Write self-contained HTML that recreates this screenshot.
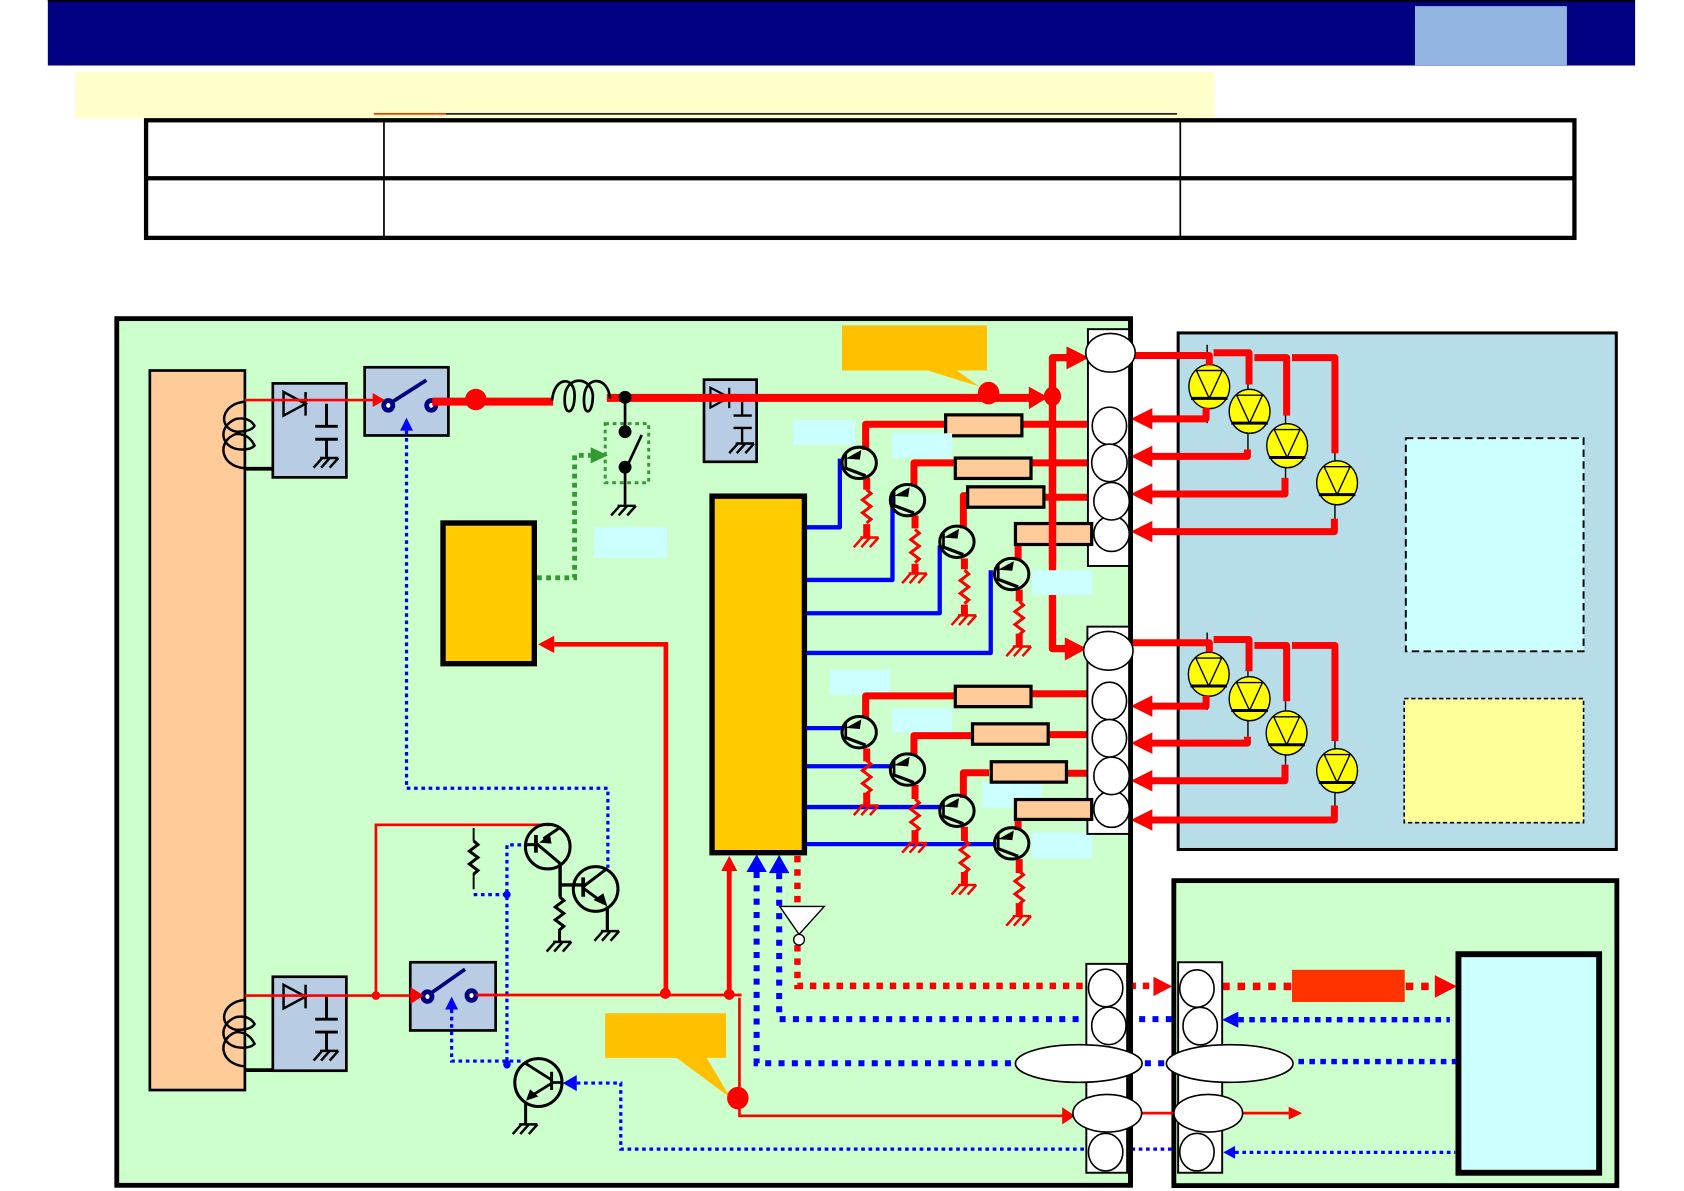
<!DOCTYPE html>
<html><head><meta charset="utf-8"><title>Diagram</title>
<style>html,body{margin:0;padding:0;background:#fff}svg{display:block}</style></head>
<body>
<svg xmlns="http://www.w3.org/2000/svg" width="1684" height="1191" viewBox="0 0 1568 1109">
<defs>
<g id="gnd" fill="none" stroke-width="2.300"><path d="M-6 0H11M-4 0L-12 9M3 0L-5 9M11 0L3 9"/></g>
<g id="res" fill="none" stroke-width="2.800"><path d="M0 0l4 3.500-8 6 8 6-8 6 8 6-4 3.500"/></g>
<g id="coil" fill="none" stroke="#000" stroke-width="2.300"><path d="M0 0C-22 2-26 24-8 28Q6 28 9 22.500Q4 14-8 16C-24 22-24 40-8 44Q4 46 9 41Q4 30-8 30C-26 36-24 60 0 62"/></g>
<g id="q" fill="none" stroke="#000"><ellipse rx="16" ry="14.600" stroke-width="2.800"/><path d="M-12.500-8V6" stroke-width="2.500"/><path d="M-12.500 5L6 12" stroke-width="3"/><polygon points="-12.500,-4 2,-12 0.600,-3" fill="#000" stroke="none"/></g>
<g id="led"><ellipse rx="19" ry="20.500" fill="#FFFF00" stroke="#000" stroke-width="1.300"/><path d="M-12-15H12L0 11Z" fill="none" stroke="#000" stroke-width="1.300"/><path d="M-17 11H17" stroke="#000" stroke-width="2.800"/></g>
<g id="capbox" fill="none" stroke="#000"><path d="M264 9L284.500 20 264 31Z M284.500 9V31" stroke-width="2.300"/><path d="M304 20V41M293.500 41H314.500M293.500 53H314.500M304 53V71" stroke-width="2.700"/></g>
</defs>

<!-- header -->
<rect x="44.500" y="0" width="1478" height="61" fill="#000080"/>
<rect x="44.500" y="0" width="1478" height="1.500" fill="#000"/>
<rect x="1317.500" y="5.700" width="141.500" height="55" fill="#92B4E0"/>
<rect x="70" y="67" width="1061" height="43.500" fill="#FFFFCC"/>
<rect x="348" y="105.200" width="67" height="1.600" fill="#FF3300"/>
<rect x="415" y="105.200" width="681" height="1.600" fill="#222"/>

<!-- table -->
<rect x="136" y="112" width="1330" height="109.500" fill="#fff" stroke="#000" stroke-width="4"/>
<path d="M136 166H1466" stroke="#000" stroke-width="4"/>
<path d="M357.500 112V221M1099 112V221" stroke="#000" stroke-width="1.600"/>

<!-- panels -->
<rect x="108.700" y="296.700" width="944" height="807" fill="#CCFFCC" stroke="#000" stroke-width="4.500"/>
<rect x="1097" y="310" width="408" height="481" fill="#B7DDE8" stroke="#000" stroke-width="2.800"/>
<rect x="1309" y="408" width="165.500" height="198.500" fill="#CCFFFF" stroke="#000" stroke-width="1.800" stroke-dasharray="7 4"/>
<rect x="1307.500" y="650.500" width="167" height="115.500" fill="#FFFF99" stroke="#000" stroke-width="1.500" stroke-dasharray="4 2.500"/>
<rect x="1093" y="820" width="412.500" height="284" fill="#CCFFCC" stroke="#000" stroke-width="4.500"/>
<rect x="1358" y="888.500" width="131" height="203.500" fill="#CCFFFF" stroke="#000" stroke-width="5.500"/>

<!-- orange bar, coils -->
<rect x="139.500" y="345" width="88.500" height="670" fill="#FFCC99" stroke="#000" stroke-width="2.500"/>
<use href="#coil" x="228" y="374"/>
<use href="#coil" x="228" y="931"/>
<path d="M228 436.500H254M228 996.500H254" stroke="#000" stroke-width="3.500"/>

<!-- blue boxes -->
<g fill="#B8CCE4" stroke="#000" stroke-width="2.500">
<rect x="254" y="357" width="68.500" height="87.500"/>
<rect x="254" y="909.500" width="68.500" height="87.500"/>
<rect x="339.500" y="342" width="78" height="63.500"/>
<rect x="382" y="896" width="79.500" height="63.500"/>
<rect x="655.500" y="353.500" width="49" height="76.500"/>
</g>
<use href="#capbox" x="0" y="356"/>
<use href="#capbox" x="0" y="908"/>
<use href="#gnd" x="304" y="426.500" stroke="#000"/>
<use href="#gnd" x="304" y="978.500" stroke="#000"/>
<path d="M661.500 361L679 370 661.500 379.500ZM679 361V380" fill="none" stroke="#000" stroke-width="2"/>
<path d="M691 370V387M683 387H700M683 398.500H700M691 398.500V413" fill="none" stroke="#000" stroke-width="2.200"/>
<use href="#gnd" x="691" y="413" stroke="#000"/>

<!-- cyan labels (under) -->
<g fill="#CCFFFF">
<rect x="739" y="391" width="57" height="23"/>
<rect x="553" y="491" width="68" height="28.500"/>
<rect x="772.500" y="623.500" width="56.500" height="23.500"/>
<rect x="830.500" y="659.500" width="56" height="22.500"/>
<rect x="915" y="728" width="55" height="24"/>
<rect x="961" y="775.500" width="56" height="24"/>
</g>

<!-- switches -->
<g fill="#fff" stroke="#000080" stroke-width="4.500">
<ellipse cx="361.500" cy="377.500" rx="4.200" ry="4.500"/><ellipse cx="401.500" cy="377.500" rx="4.200" ry="4.500"/>
<ellipse cx="398" cy="928" rx="4.200" ry="4.500"/><ellipse cx="439" cy="927" rx="4.200" ry="4.500"/>
</g>
<path d="M364 375L397 354M401 925L433 902.500" stroke="#000080" stroke-width="3.500" fill="none"/>

<!-- thin dotted blue -->
<g fill="none" stroke="#0000FF" stroke-width="3" stroke-dasharray="3.400 3.400">
<path d="M378.500 401V734H566V808"/>
<path d="M492 786.700H472V991"/>
<path d="M441 833H471"/>
<path d="M420.500 940V988H488"/>
<path d="M537 1008.500H578V1070H1092"/>
<path d="M1150 1073H1355"/>
</g>
<polygon points="378.500,389 372.500,401 384.500,401" fill="#0000FF"/>
<polygon points="420.500,928 414.500,940 426.500,940" fill="#0000FF"/>
<polygon points="524,1008.500 537,1001 537,1016" fill="#0000FF"/>
<polygon points="1139,1073 1150,1067 1150,1079" fill="#0000FF"/>
<circle cx="472" cy="833" r="3.500" fill="#0000FF"/><ellipse cx="472" cy="991" rx="3.500" ry="4" fill="#0000FF"/>

<!-- green dotted -->
<path d="M500 538H535V424H550" fill="none" stroke="#339933" stroke-width="4.500" stroke-dasharray="4.500 4"/>
<polygon points="550,416.500 566,424 550,431.500" fill="#339933"/>
<rect x="563.500" y="394.500" width="40.500" height="55" fill="none" stroke="#339933" stroke-width="2.800" stroke-dasharray="3.500 3.500"/>

<!-- yellow blocks -->
<rect x="412.500" y="487" width="85" height="131" fill="#FFCC00" stroke="#000" stroke-width="5"/>
<rect x="663" y="462" width="86" height="332" fill="#FFCC00" stroke="#000" stroke-width="5"/>

<!-- chip blue outputs -->
<g fill="none" stroke="#0000FF" stroke-width="4" stroke-linejoin="round">
<path d="M751 491H782V427"/>
<path d="M751 540H831V461"/>
<path d="M751 571H875V508"/>
<path d="M751 608H922.500V531"/>
<path d="M751 678H786"/>
<path d="M751 713.500H832"/>
<path d="M751 751.500H877"/>
<path d="M751 786H928"/>
</g>

<!-- resistor lines -->
<g fill="none" stroke="#FF0000" stroke-width="6.500" stroke-linejoin="round">
<path d="M806 419V395H880"/><path d="M953 395H1012"/>
<path d="M851 452V431H888"/><path d="M961 431H1014"/>
<path d="M897 492V461.500H900"/><path d="M973 463H1013"/>
<path d="M948 522V508"/>
<path d="M806 669V648H888"/><path d="M961 646H1013"/>
<path d="M851 704V685H904"/><path d="M977 684H1012"/>
<path d="M897 743V719.500H921"/><path d="M994 720H1013"/>
<path d="M948 773V764"/>
</g>
<g fill="#FFCC99" stroke="#000" stroke-width="3">
<rect x="880.500" y="386.300" width="71" height="19.500"/>
<rect x="889.500" y="426.500" width="70.500" height="19"/>
<rect x="901" y="453.300" width="71" height="19"/>
<rect x="889.500" y="639" width="70.500" height="19"/>
<rect x="905.500" y="674" width="70.500" height="19"/>
<rect x="923" y="709.300" width="70" height="19"/>
</g>

<!-- grounds + resistors red -->
<g stroke="#FF0000">
<g fill="none" stroke-width="6.500"><path d="M807 445V456M807 488V500M852 480V492M852 525V534M898 520V530M898 563V573M949 549V560M949 590V602M807 697V709M807 738V750M852 731V744M852 773V785M898 770V783M898 812V824M949 800V813M949 841V853"/></g>
<use href="#res" x="807" y="456"/><use href="#gnd" x="807" y="500.500"/>
<use href="#res" x="852" y="493"/><use href="#gnd" x="852" y="534"/>
<use href="#res" x="898" y="531"/><use href="#gnd" x="898" y="573"/>
<use href="#res" x="949" y="560"/><use href="#gnd" x="949" y="602"/>
<use href="#res" x="807" y="708"/><use href="#gnd" x="807" y="750"/>
<use href="#res" x="852" y="744"/><use href="#gnd" x="852" y="785"/>
<use href="#res" x="898" y="782"/><use href="#gnd" x="898" y="824"/>
<use href="#res" x="949" y="811"/><use href="#gnd" x="949" y="853"/>
</g>

<!-- small transistors -->
<use href="#q" x="800" y="431"/><use href="#q" x="845" y="465.700"/><use href="#q" x="891" y="504.500"/><use href="#q" x="942" y="534.500"/>
<use href="#q" x="800" y="681.800"/><use href="#q" x="845" y="716.600"/><use href="#q" x="891" y="755"/><use href="#q" x="942" y="785.300"/>

<!-- main thick red rail -->
<g fill="none" stroke="#FF0000" stroke-linejoin="round">
<path d="M402.500 374H515" stroke-width="7.500"/>
<path d="M565 370.500H960" stroke-width="7.500"/>
<path d="M998 333H980V604H998" stroke-width="6.800"/>
<path d="M228 372.500H348" stroke-width="2.500"/>
</g>
<polygon points="347,366 358.500,372.500 347,379" fill="#FF0000"/>
<polygon points="958,360 976,370 958,381" fill="#FF0000"/>
<polygon points="993,322.500 1014,333 993,344" fill="#FF0000"/>
<polygon points="991.500,593.500 1012,604 991.500,615" fill="#FF0000"/>
<ellipse cx="443" cy="372" rx="10" ry="10" fill="#FF0000"/>
<ellipse cx="920.500" cy="366" rx="10" ry="10.500" fill="#FF0000"/>
<ellipse cx="980" cy="369" rx="8" ry="9" fill="#FF0000"/>

<!-- inductor -->
<path d="M514 373C516 350 535 350 535 368C535 388 524 388 526 368C528 350 550 350 552 368C552 388 542 388 544 368C546 350 566 350 568 371" fill="none" stroke="#000" stroke-width="2.500"/>

<!-- small relay -->
<path d="M582 370V402M582 435V470M584 434L597.500 405" stroke="#000" stroke-width="2.500" fill="none"/>
<circle cx="582" cy="370" r="6" fill="#000"/><circle cx="582" cy="402" r="6" fill="#000"/><circle cx="582" cy="435" r="6" fill="#000"/>
<use href="#gnd" x="581" y="471" stroke="#000"/>

<!-- lower red network -->
<g fill="none" stroke="#FF0000">
<path d="M228 927H382" stroke-width="2.500"/>
<path d="M350 927V768H515" stroke-width="2.500"/>
<path d="M443.500 926.500H690.500" stroke-width="2.500"/>
<path d="M620 926V600H516" stroke-width="4.300"/>
<path d="M679 926V811" stroke-width="4.500"/>
<path d="M688.500 929V1039H990" stroke-width="2.500"/>
<path d="M1063 1036.500H1094M1157 1036.500H1200" stroke-width="2.500"/>
</g>
<polygon points="382,919 394.500,927 382,935" fill="#FF0000"/>
<polygon points="501,600 516,592 516,608" fill="#FF0000"/>
<polygon points="679,797 671.500,811 686.500,811" fill="#FF0000"/>
<polygon points="989,1031 1001,1039 989,1047" fill="#FF0000"/>
<polygon points="1200,1030.500 1212.500,1036.500 1200,1042.500" fill="#FF0000"/>
<circle cx="350" cy="927" r="4" fill="#FF0000"/><circle cx="619.500" cy="925" r="5" fill="#FF0000"/><circle cx="679" cy="926" r="5" fill="#FF0000"/>

<!-- callouts -->
<path d="M784 303H919V345H891L912 360L864 345H784Z" fill="#FFC000"/>
<path d="M563.500 943.500H676V985H658L680 1022L630 985H563.500Z" fill="#FFC000"/>
<ellipse cx="687" cy="1022.500" rx="10" ry="10.500" fill="#FF0000"/>

<!-- thick dashed -->
<polygon points="726,844 767.500,844 744,870" fill="#fff" stroke="#000" stroke-width="1.300"/>
<g fill="none">
<path d="M704.500 812V990H945M1066 990H1090" stroke="#0000FF" stroke-width="5.600" stroke-dasharray="5.600 6.800"/>
<path d="M725.500 813V949H1091" stroke="#0000FF" stroke-width="5.600" stroke-dasharray="5.600 6.800"/>
<path d="M1153 949.500H1350" stroke="#0000FF" stroke-width="5" stroke-dasharray="5.200 5"/>
<path d="M1209 988.500H1356" stroke="#0000FF" stroke-width="5" stroke-dasharray="5.200 5"/>
<path d="M742.500 797V844M742.500 880V918H1074" stroke="#FF0000" stroke-width="6" stroke-dasharray="6 6.400"/>
<path d="M1138 918.500H1203" stroke="#FF0000" stroke-width="7" stroke-dasharray="7 7.300"/>
<path d="M1309 918.500H1336" stroke="#FF0000" stroke-width="7" stroke-dasharray="7 7.300"/>
</g>
<polygon points="704.500,795.500 695,812 714,812" fill="#0000FF"/>
<polygon points="725.500,796 716,813 735,813" fill="#0000FF"/>
<polygon points="1074,909.500 1091.500,918.500 1074,927.500" fill="#FF0000"/>
<polygon points="1336,908 1356.500,918.500 1336,929" fill="#FF0000"/>
<polygon points="1138,949.500 1153,942 1153,957" fill="#0000FF"/>
<rect x="1203" y="903" width="105" height="30" fill="#FF3300"/>
<circle cx="744" cy="875" r="5" fill="#fff" stroke="#000" stroke-width="1.300"/>

<!-- big transistors -->
<g fill="none" stroke="#000" stroke-width="2.800">
<ellipse cx="510" cy="788.300" rx="20.800" ry="20.800"/>
<ellipse cx="554.600" cy="827.800" rx="20.800" ry="20.800"/>
<ellipse cx="501.300" cy="1008" rx="22" ry="22.300"/>
<path d="M499 777.500V794" stroke-width="3.500"/>
<path d="M491 786.500H499M499 785L521.500 804M520.800 771L506 781"/>
<path d="M521.500 804V835M521.500 824H543" stroke-width="3.200"/>
<path d="M543 817V835" stroke-width="3.500"/>
<path d="M543 825.600L565.500 808.500M543 827L558 838"/>
<path d="M565.500 844V866" stroke-width="3"/>
<path d="M513.600 998V1015" stroke-width="2.800"/>
<path d="M513.600 1008H523M513.600 1005.600L489 990M513.600 1008.700L497 1019" stroke-width="2.600"/>
<path d="M489.400 1026V1046" stroke-width="2.800"/>
<path d="M521 865V877" stroke-width="2.800"/>
<path d="M441 771V783M441 813V828" stroke-width="1.800"/>
</g>
<polygon points="502,784.600 512,776.500 513.500,785.500" fill="#000"/>
<polygon points="565.500,844 552.600,838 561.800,831.800" fill="#000"/>
<polygon points="489.800,1024.800 493.500,1014.300 501.200,1021" fill="#000"/>
<use href="#res" x="521" y="835" stroke="#000"/>
<use href="#res" x="441" y="783" stroke="#000"/>
<use href="#gnd" x="521" y="877" stroke="#000"/>
<use href="#gnd" x="565.500" y="867" stroke="#000"/>
<use href="#gnd" x="489.400" y="1047" stroke="#000"/>

<!-- connector strips -->
<g fill="#fff" stroke="#000" stroke-width="1.800">
<rect x="1013" y="306.500" width="40" height="220.500"/>
<rect x="1012.500" y="583.500" width="40" height="193"/>
<rect x="1011.500" y="897.500" width="38" height="194.500"/>
<rect x="1097" y="896" width="41" height="196"/>
</g>

<!-- LED group wiring -->
<g fill="none" stroke="#000" stroke-width="1.300">
<path d="M1124 321V394M1162 358V425M1197 386V445M1243 420V484"/>
<path d="M1124 589V661M1162 625V686M1197 653V712M1243 690V750"/>
</g>
<use href="#led" x="1126" y="360"/><use href="#led" x="1163.500" y="383"/><use href="#led" x="1198.500" y="415"/><use href="#led" x="1245" y="449.600"/>
<use href="#led" x="1125.500" y="627.800"/><use href="#led" x="1163.500" y="650.600"/><use href="#led" x="1198" y="682.500"/><use href="#led" x="1245" y="717.600"/>
<g fill="none" stroke="#FF0000" stroke-width="6.500" stroke-linejoin="round">
<path d="M1051 331H1126V340M1130 328.500H1163V358M1168 333H1198V387M1203 333H1243V422"/>
<path d="M1123 380V390H1070M1161.500 418.500V425H1070M1196.500 445V460H1070M1242.500 483V495H1070"/>
<path d="M1051 598.500H1126V607M1130 595.500H1163V625M1168 601H1198V653M1203 601H1243V690"/>
<path d="M1123 648V657.500H1070M1161.500 686V692H1070M1196.500 712V727H1070M1242.500 750V763.500H1070"/>
</g>
<g fill="#FF0000">
<polygon points="1053,390 1073,380 1073,400"/><polygon points="1053,425 1073,415 1073,435"/>
<polygon points="1053,460 1073,450 1073,470"/><polygon points="1053,495 1073,485 1073,505"/>
<polygon points="1053,657.500 1073,647.500 1073,667.500"/><polygon points="1053,692 1073,682 1073,702"/>
<polygon points="1053,727 1073,717 1073,737"/><polygon points="1053,763.500 1073,753.500 1073,773.500"/>
</g>

<!-- main panel right edge over strips -->
<path d="M1052.700 296.700V1103.700" stroke="#000" stroke-width="4.500"/>

<!-- fourth resistors sit over strips, rail over them, labels on top -->
<g fill="#FFCC99" stroke="#000" stroke-width="3">
<rect x="945.500" y="487.500" width="71" height="19.500"/>
<rect x="945.500" y="744.500" width="71" height="18.500"/>
</g>
<path d="M980 400V525" stroke="#FF0000" stroke-width="6.800"/>
<rect x="830.500" y="403.500" width="56" height="23" fill="#CCFFFF"/>
<rect x="961" y="531" width="56" height="23" fill="#CCFFFF"/>

<!-- connector circles -->
<g fill="#fff" stroke="#000" stroke-width="1.500">
<ellipse cx="1034" cy="328.500" rx="23" ry="18"/>
<ellipse cx="1033" cy="396.600" rx="16" ry="17.500"/>
<ellipse cx="1035" cy="497" rx="16.500" ry="16.500"/>
<ellipse cx="1033" cy="431" rx="16.500" ry="17.500"/>
<ellipse cx="1035" cy="466.700" rx="16.500" ry="17.500"/>
<ellipse cx="1032" cy="606" rx="23" ry="18"/>
<ellipse cx="1033" cy="652.700" rx="16" ry="17.500"/>
<ellipse cx="1035" cy="753.400" rx="16.500" ry="17"/>
<ellipse cx="1033" cy="687.400" rx="16" ry="17.500"/>
<ellipse cx="1035" cy="722.500" rx="16.500" ry="17.500"/>
<ellipse cx="1029.500" cy="920" rx="16" ry="17.500"/>
<ellipse cx="1032.500" cy="955.200" rx="16" ry="17.500"/>
<ellipse cx="1004.500" cy="990.300" rx="59" ry="17.500"/>
<ellipse cx="1031" cy="1036.600" rx="32" ry="17.500"/>
<ellipse cx="1029.500" cy="1072.800" rx="16" ry="17.500"/>
<ellipse cx="1114.500" cy="920.500" rx="16" ry="17.500"/>
<ellipse cx="1117.500" cy="955.500" rx="16" ry="17.500"/>
<ellipse cx="1145" cy="990.300" rx="59" ry="17.500"/>
<ellipse cx="1125" cy="1036.600" rx="32" ry="17.500"/>
<ellipse cx="1114.500" cy="1072.800" rx="16" ry="17.500"/>
</g>
</svg>
</body></html>
